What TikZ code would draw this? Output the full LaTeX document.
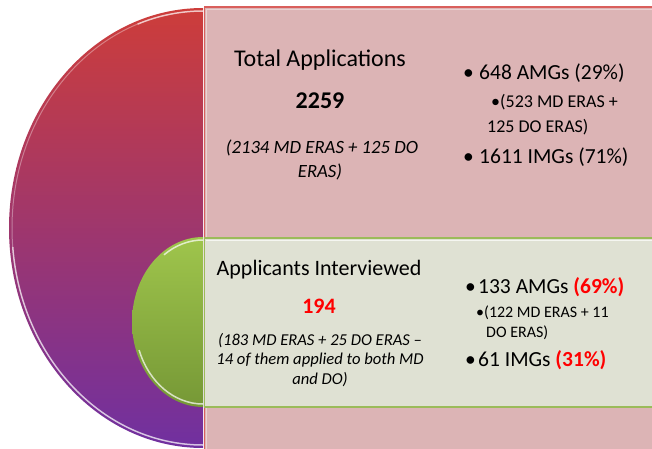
\documentclass[tikz,border=0pt]{standalone}
\usepackage{fontspec}
\setmainfont{Carlito}
\usetikzlibrary{positioning}
\definecolor{appred}{HTML}{CD3D3A}
\definecolor{appmid}{HTML}{A4386A}
\definecolor{apppurple}{HTML}{7030A0}
\definecolor{pinkfill}{HTML}{DCB4B5}
\definecolor{pinkline}{HTML}{D95F5C}
\definecolor{greentop}{HTML}{9FC54C}
\definecolor{greenbot}{HTML}{769836}
\definecolor{greyfill}{HTML}{DFE1D3}
\definecolor{greenline}{HTML}{9BBB59}
\definecolor{hotred}{HTML}{FF0000}

\begin{document}
\begin{tikzpicture}[
  x=1pt,y=1pt,
  ttl/.style={anchor=base,inner sep=0pt,font=\fontsize{24}{28}\selectfont},
  ttlb/.style={anchor=base,inner sep=0pt,font=\fontsize{22}{26}\selectfont},
  num/.style={anchor=base,inner sep=0pt,font=\fontsize{24}{28}\selectfont\bfseries},
  note/.style={anchor=base,inner sep=0pt,font=\fontsize{18.7}{22}\selectfont\itshape},
  noteb/.style={anchor=base,inner sep=0pt,font=\fontsize{16.6}{20}\selectfont\itshape},
  bul/.style={anchor=base west,inner sep=0pt,font=\fontsize{21.5}{26}\selectfont},
  subbul/.style={anchor=base west,inner sep=0pt,font=\fontsize{18}{22}\selectfont},
  subbulb/.style={anchor=base west,inner sep=0pt,font=\fontsize{16}{20}\selectfont}
]
\useasboundingbox (0,0) rectangle (652,448);

% back panel and big half disc
\draw[pinkline,line width=1.2pt,fill=pinkfill] (204.5,-10) rectangle (670,441);
\draw[white,opacity=.4,line width=.8pt] (206.5,-10) -- (206.5,439) -- (670,439);
\shade[top color=appred,middle color=appmid,bottom color=apppurple]
  (203,440) arc[start angle=90,end angle=270,x radius=194pt,y radius=220pt] -- cycle;
\draw[white,opacity=.35,line width=1pt]
  (203,437) arc[start angle=90,end angle=270,x radius=191pt,y radius=217pt];
\draw[white,opacity=.6,line width=1.5pt]
  (203,437) arc[start angle=90,end angle=110,x radius=191pt,y radius=217pt];
\draw[white,opacity=.6,line width=1.5pt]
  (203,3) arc[start angle=270,end angle=185,x radius=191pt,y radius=217pt];

% front panel and small half disc
\draw[greenline,line width=1.2pt,fill=greyfill] (204.5,41) rectangle (670,210);
\draw[white,opacity=.7,line width=1pt] (206,207.5) -- (670,207.5);
\shade[top color=greentop,bottom color=greenbot]
  (203,211) arc[start angle=90,end angle=270,x radius=71pt,y radius=85pt] -- cycle;
\draw[white,opacity=.7,line width=1.5pt]
  (203,208) arc[start angle=90,end angle=125,x radius=68pt,y radius=82pt];
\draw[white,opacity=.7,line width=1.5pt]
  (203,44) arc[start angle=270,end angle=200,x radius=68pt,y radius=82pt];

% totals
\node[ttl] (tot) at (320,381) {Total Applications};
\node[num] (totn) at (320,340) {2259};
\node[note] (totsa) at (322,295) {(2134 MD ERAS + 125 DO};
\node[note] (totsb) at (320,271) {ERAS)};

\node[bul] (amg) at (463,368) {\makebox[16pt][l]{\textbullet}648 AMGs (29\%)};
\node[subbul] (amgsa) at (491,341) {\textbullet(523 MD ERAS +};
\node[subbul] (amgsb) at (487,316) {125 DO ERAS)};
\node[bul] (img) at (463,285) {\makebox[16pt][l]{\textbullet}1611 IMGs (71\%)};

% interviewed
\node[ttlb] (intv) at (319,173) {Applicants Interviewed};
\node[num,font=\fontsize{22}{26}\selectfont\bfseries,text=hotred] (intvn) at (319,135) {194};
\node[noteb] (intvsa) at (320,103) {(183 MD ERAS + 25 DO ERAS –};
\node[noteb] (intvsb) at (320,84) {14 of them applied to both MD};
\node[noteb] (intvsc) at (320,64) {and DO)};

\node[bul] (amgi) at (465,155) {\makebox[13pt][l]{\textbullet}133 AMGs {\bfseries\color{hotred}(69\%)}};
\node[subbulb] (amgisa) at (476,131) {\textbullet(122 MD ERAS + 11};
\node[subbulb] (amgisb) at (486,111) {DO ERAS)};
\node[bul] (imgi) at (465,82) {\makebox[13pt][l]{\textbullet}61 IMGs {\bfseries\color{hotred}(31\%)}};
\end{tikzpicture}
\end{document}
